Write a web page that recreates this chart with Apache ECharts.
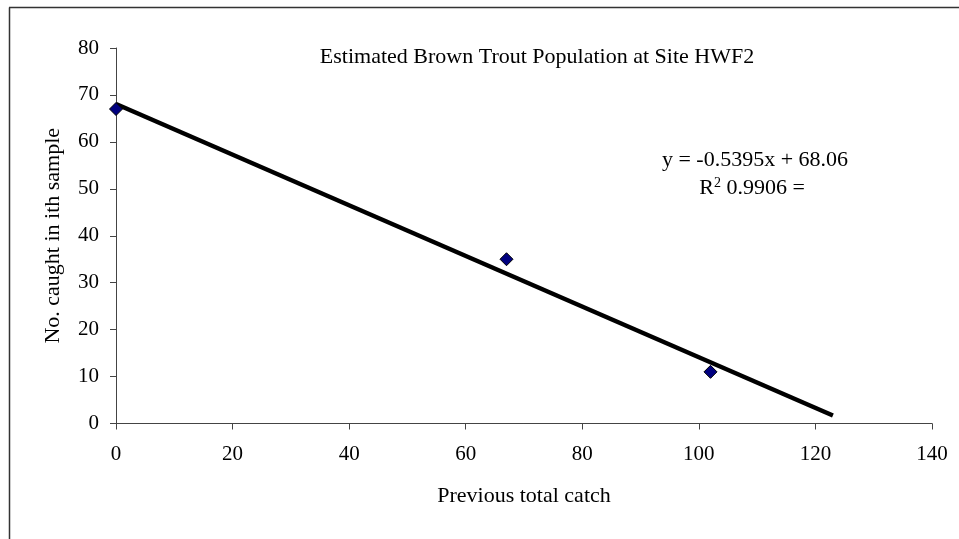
<!DOCTYPE html>
<html>
<head>
<meta charset="utf-8">
<script src="https://cdn.jsdelivr.net/npm/echarts@6/dist/echarts.min.js"></script>
<style>
  html, body { margin: 0; padding: 0; background: #fff; }
  #chart { width: 959px; height: 539px; }
</style>
</head>
<body>
<div id="chart"></div>
<script>
// Removal-sampling catch data
const previousCatch = [0, 67, 102];
const caughtInSample = [67, 35, 11];

// Fitted regression line y = slope * x + intercept
const slope = -0.5395;
const intercept = 68.06;
const rSquared = 0.9906;
const trendXRange = [0, 123];

const xTicks = { min: 0, max: 140, step: 20 };
const yTicks = { min: 0, max: 80, step: 10 };

const points = previousCatch.map((x, i) => [x, caughtInSample[i]]);
const trend = trendXRange.map(x => [x, slope * x + intercept]);

const serif = '"Liberation Serif", "DejaVu Serif", serif';
const chart = echarts.init(document.getElementById('chart'), null, { renderer: 'canvas' });

chart.setOption({
  animation: false,
  backgroundColor: '#ffffff',
  grid: { left: 116, right: 27, top: 48, bottom: 115.5, containLabel: false },
  title: {
    text: 'Estimated Brown Trout Population at Site HWF2',
    left: 532, top: 41, textAlign: 'center',
    textStyle: { fontFamily: serif, fontSize: 22, fontWeight: 'normal', color: '#000' }
  },
  xAxis: {
    type: 'value', min: xTicks.min, max: xTicks.max, interval: xTicks.step,
    name: 'Previous total catch', nameLocation: 'middle', nameGap: 62,
    nameTextStyle: { fontFamily: serif, fontSize: 22, color: '#000' },
    axisLine: { show: true, lineStyle: { color: '#444', width: 1 } },
    axisTick: { show: true, inside: false, length: 6, lineStyle: { color: '#444' } },
    axisLabel: { fontFamily: serif, fontSize: 21, color: '#000', margin: 20 },
    splitLine: { show: false }
  },
  yAxis: {
    type: 'value', min: yTicks.min, max: yTicks.max, interval: yTicks.step,
    name: 'No. caught in ith sample', nameLocation: 'middle', nameGap: 52,
    nameTextStyle: { fontFamily: serif, fontSize: 22, color: '#000' },
    axisLine: { show: true, lineStyle: { color: '#444', width: 1 } },
    axisTick: { show: true, inside: false, length: 6, lineStyle: { color: '#444' } },
    axisLabel: { fontFamily: serif, fontSize: 21, color: '#000', margin: 17 },
    splitLine: { show: false }
  },
  series: [
    {
      type: 'line', data: trend, showSymbol: false, symbol: 'none',
      lineStyle: { color: '#000', width: 4.5 }, z: 2
    },
    {
      type: 'scatter', data: points, symbol: 'diamond', symbolSize: 13,
      itemStyle: { color: '#000080', borderColor: '#000', borderWidth: 1, opacity: 1 }, z: 3
    }
  ],
  graphic: [
    { type: 'line', shape: { x1: 9.5, y1: 7.5, x2: 9.5, y2: 539 }, style: { stroke: '#333', lineWidth: 1.5 } },
    { type: 'line', shape: { x1: 9, y1: 7.5, x2: 959, y2: 7.5 }, style: { stroke: '#333', lineWidth: 1.5 } },
    {
      type: 'text', x: 755, y: 160,
      style: {
        text: 'y = ' + slope + 'x + ' + intercept.toFixed(2),
        font: '22px ' + serif, fill: '#000', textAlign: 'center', textVerticalAlign: 'middle'
      }
    },
    {
      type: 'text', x: 752, y: 188,
      style: {
        text: 'R{sup|2} ' + rSquared + ' =',
        font: '22px ' + serif, fill: '#000', textAlign: 'center', textVerticalAlign: 'middle',
        rich: { sup: { fontSize: 14, fontFamily: serif, verticalAlign: 'top', padding: [0, 0, 10, 0] } }
      }
    }
  ]
});
</script>
</body>
</html>
